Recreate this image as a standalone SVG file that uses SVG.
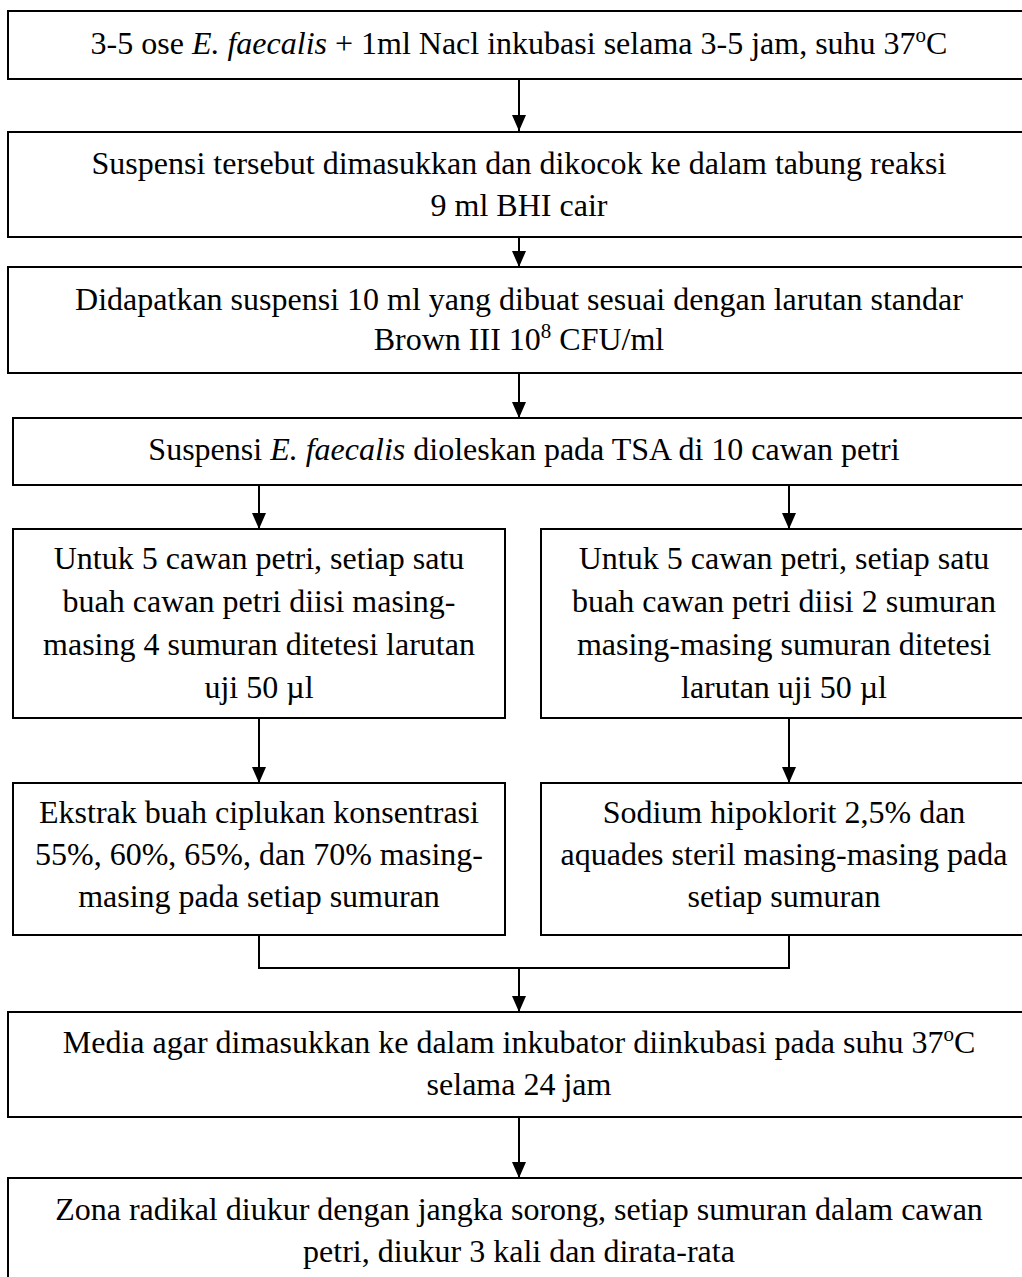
<svg xmlns="http://www.w3.org/2000/svg" width="1022" height="1277" viewBox="0 0 1022 1277">
<style>
.box{fill:#fff;stroke:#000;stroke-width:2}
.t{font-family:"Liberation Serif","Times New Roman",serif;font-size:32px;fill:#000;text-anchor:middle}
.i{font-style:italic}
.c{fill:none;stroke:#000;stroke-width:2}
</style>
<defs>
<marker id="ah" markerUnits="userSpaceOnUse" markerWidth="16" markerHeight="16" viewBox="0 0 16 16" refX="16" refY="8" orient="auto">
<path d="M0,1 L16,8 L0,15 Z" fill="#000"/>
</marker>
</defs>
<rect width="1022" height="1277" fill="#fff"/>
<g id="n1"><rect class="box" x="8" y="11" width="1025" height="68"/>
<text class="t" x="519" y="54">3-5 ose <tspan class="i">E. faecalis</tspan> + 1ml Nacl inkubasi selama 3-5 jam, suhu 37<tspan dy="-12" font-size="21">o</tspan><tspan dy="12">C</tspan></text></g>
<g id="n2"><rect class="box" x="8" y="132" width="1025" height="105"/>
<text class="t" x="519" y="174">Suspensi tersebut dimasukkan dan dikocok ke dalam tabung reaksi</text>
<text class="t" x="519" y="216">9 ml BHI cair</text></g>
<g id="n3"><rect class="box" x="8" y="267" width="1025" height="106"/>
<text class="t" x="519" y="310">Didapatkan suspensi 10 ml yang dibuat sesuai dengan larutan standar</text>
<text class="t" x="519" y="350">Brown III 10<tspan dy="-12" font-size="21">8</tspan><tspan dy="12"> CFU/ml</tspan></text></g>
<g id="n4"><rect class="box" x="13" y="418" width="1022" height="67"/>
<text class="t" x="524" y="460">Suspensi <tspan class="i">E. faecalis</tspan> dioleskan pada TSA di 10 cawan petri</text></g>
<g id="n5"><rect class="box" x="13" y="529" width="492" height="189"/>
<text class="t" x="259" y="569">Untuk 5 cawan petri, setiap satu</text>
<text class="t" x="259" y="612">buah cawan petri diisi masing-</text>
<text class="t" x="259" y="655">masing 4 sumuran ditetesi larutan</text>
<text class="t" x="259" y="698">uji 50 µl</text></g>
<g id="n6"><rect class="box" x="541" y="529" width="495" height="189"/>
<text class="t" x="784" y="569">Untuk 5 cawan petri, setiap satu</text>
<text class="t" x="784" y="612">buah cawan petri  diisi 2 sumuran</text>
<text class="t" x="784" y="655">masing-masing sumuran ditetesi</text>
<text class="t" x="784" y="698">larutan uji 50 µl</text></g>
<g id="n7"><rect class="box" x="13" y="783" width="492" height="152"/>
<text class="t" x="259" y="823">Ekstrak buah ciplukan konsentrasi</text>
<text class="t" x="259" y="865">55%, 60%, 65%, dan 70% masing-</text>
<text class="t" x="259" y="907">masing pada setiap sumuran</text></g>
<g id="n8"><rect class="box" x="541" y="783" width="495" height="152"/>
<text class="t" x="784" y="823">Sodium hipoklorit 2,5% dan</text>
<text class="t" x="784" y="865">aquades steril masing-masing pada</text>
<text class="t" x="784" y="907">setiap sumuran</text></g>
<g id="n9"><rect class="box" x="8" y="1012" width="1025" height="105"/>
<text class="t" x="519" y="1053">Media agar dimasukkan ke dalam inkubator diinkubasi pada suhu 37<tspan dy="-12" font-size="21">o</tspan><tspan dy="12">C</tspan></text>
<text class="t" x="519" y="1095">selama 24 jam</text></g>
<g id="n10"><rect class="box" x="8" y="1178" width="1025" height="120"/>
<text class="t" x="519" y="1220">Zona radikal diukur dengan jangka sorong, setiap sumuran dalam cawan</text>
<text class="t" x="519" y="1262">petri, diukur 3 kali dan dirata-rata</text></g>
<g id="connectors">
<line class="c" x1="519" y1="79" x2="519" y2="131" marker-end="url(#ah)"/>
<line class="c" x1="519" y1="237" x2="519" y2="267" marker-end="url(#ah)"/>
<line class="c" x1="519" y1="373" x2="519" y2="418" marker-end="url(#ah)"/>
<line class="c" x1="259" y1="485" x2="259" y2="529" marker-end="url(#ah)"/>
<line class="c" x1="789" y1="485" x2="789" y2="529" marker-end="url(#ah)"/>
<line class="c" x1="259" y1="718" x2="259" y2="783" marker-end="url(#ah)"/>
<line class="c" x1="789" y1="718" x2="789" y2="783" marker-end="url(#ah)"/>
<polyline class="c" points="259,935 259,968 789,968 789,935"/>
<line class="c" x1="519" y1="968" x2="519" y2="1012" marker-end="url(#ah)"/>
<line class="c" x1="519" y1="1117" x2="519" y2="1178" marker-end="url(#ah)"/>
</g>
</svg>
